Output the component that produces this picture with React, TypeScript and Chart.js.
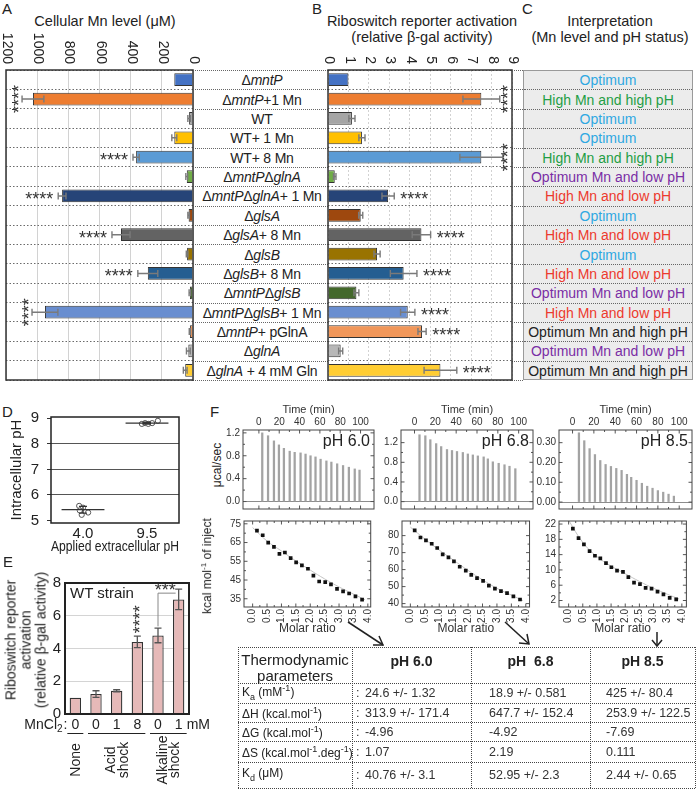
import React, { useEffect, useRef } from 'react';
import { Chart, registerables } from 'chart.js';

Chart.register(...registerables);

const FF = '"Liberation Sans", Arial, Helvetica, sans-serif';
Chart.defaults.font.family = FF;
Chart.defaults.color = '#222';

// ---------------- Panels A / B / C ----------------
const strainLabels = [
  'Δ_mntP_', 'Δ_mntP_+1 Mn', 'WT', 'WT+ 1 Mn', 'WT+ 8 Mn', 'Δ_mntP_Δ_glnA_',
  'Δ_mntP_Δ_glnA_+ 1 Mn', 'Δ_glsA_', 'Δ_glsA_+ 8 Mn', 'Δ_glsB_', 'Δ_glsB_+ 8 Mn',
  'Δ_mntP_Δ_glsB_', 'Δ_mntP_Δ_glsB_+ 1 Mn', 'Δ_mntP_+ pGlnA', 'Δ_glnA_', 'Δ_glnA_ + 4 mM Gln',
];
const barColors = [
  '#4472C4', '#ED7D31', '#A5A5A5', '#FFC000', '#5B9BD5', '#70AD47', '#264478', '#9E480E',
  '#636363', '#997300', '#255E91', '#43682B', '#698ED0', '#F1975A', '#B7B7B7', '#FFCD33',
];
const mnLevel = [120, 1027, 25, 120, 365, 40, 840, 28, 462, 38, 290, 20, 950, 20, 30, 50];
const mnErr = [0, 70, 8, 16, 20, 6, 25, 5, 58, 5, 64, 5, 83, 4, 12, 12];
const mnStars = ['', 'v', '', '', 'h', '', 'h', '', 'h', '', 'h', '', 'v', '', '', ''];
const mnTickStep = 200;

const riboActivity = [1.0, 7.5, 1.17, 1.66, 7.5, 0.33, 2.94, 1.6, 4.57, 2.4, 3.7, 1.39, 3.9, 4.6, 0.62, 5.5];
const riboErr = [0, 0.9, 0.15, 0.15, 1.05, 0.06, 0.3, 0.1, 0.45, 0.15, 0.65, 0.12, 0.35, 0.2, 0.1, 0.8];
const riboStars = ['', 'v', '', '', 'v', '', 'h', '', 'h', '', 'h', '', 'h', 'h', '', 'h'];

const interpretation = [
  'Optimum', 'High Mn and high pH', 'Optimum', 'Optimum', 'High Mn and high pH',
  'Optimum Mn and low pH', 'High Mn and low pH', 'Optimum', 'High Mn and low pH', 'Optimum',
  'High Mn and low pH', 'Optimum Mn and low pH', 'High Mn and low pH', 'Optimum Mn and high pH',
  'Optimum Mn and low pH', 'Optimum Mn and high pH',
];
const interpColors: Record<string, string> = {
  'Optimum': '#2FA8E2',
  'High Mn and high pH': '#1F9E45',
  'Optimum Mn and low pH': '#7A2EA5',
  'High Mn and low pH': '#EC3A2E',
  'Optimum Mn and high pH': '#222222',
};

// ---------------- Panel D ----------------
const phGroups = ['4.0', '9.5'];
const phLowX = [0.94, 1.0, 0.98, 1.08, 0.95];
const phLowY = [5.57, 5.5, 5.22, 5.31, 5.39];
const phHighX = [1.92, 1.97, 2.02, 2.08, 2.17];
const phHighY = [8.78, 8.81, 8.78, 8.81, 8.9];
const phMean = [5.42, 8.81];
const phSd = [0.13, 0.04];
const phTicks = [5, 5.5, 6, 6.5, 7, 7.5, 8, 8.5, 9];

// ---------------- Panel E ----------------
const shockMn = ['0', '0', '1', '8', '0', '1'];
const shockAct = [1.0, 1.22, 1.42, 4.4, 4.8, 7.0];
const shockErr = [0, 0.2, 0.06, 0.35, 0.45, 0.62];
const shockGroups = [
  { lines: ['None'], from: 0, to: 0 },
  { lines: ['Acid', 'shock'], from: 1, to: 3 },
  { lines: ['Alkaline', 'shock'], from: 4, to: 5 },
];
const shockTicks = [0, 1, 2, 3, 4, 5, 6, 7, 8];

// ---------------- Panel F ----------------
const itcTime60 = [3.3, 9, 14.8, 19.7, 24.6, 30.3, 35.2, 41, 45.9, 50.8, 55.7, 60.7, 66.4, 71.3, 77, 82.8, 88.5, 94.3, 99];
const itcPeak60 = [1.2, 1.15, 1.06, 0.99, 0.93, 0.88, 0.86, 0.85, 0.83, 0.8, 0.78, 0.74, 0.71, 0.69, 0.66, 0.63, 0.6, 0.57, 0.55];
const itcTime68 = [4.8, 10.4, 15.2, 20.8, 25.6, 31.2, 36, 40.8, 46.4, 51.2, 56, 60.8, 66.4, 70.4, 75.2, 80.8, 86.4, 91.2, 96.8];
const itcPeak68 = [1.36, 1.34, 1.26, 1.18, 1.12, 1.06, 1.04, 1.02, 1.0, 0.97, 0.95, 0.93, 0.91, 0.87, 0.81, 0.78, 0.75, 0.72, 0.67];
const itcTime85 = [6, 11, 16, 21, 26, 31, 36, 41, 46, 51, 55, 60, 65, 70, 75, 80, 85, 90, 95];
const itcPeak85 = [0.35, 0.31, 0.27, 0.24, 0.21, 0.19, 0.18, 0.17, 0.16, 0.14, 0.125, 0.11, 0.095, 0.08, 0.07, 0.058, 0.05, 0.04, 0.03];
const rateTicks60 = [0, 0.2, 0.4, 0.6, 0.8, 1.0, 1.2];
const rateTicks68 = [0, 0.2, 0.4, 0.6, 0.8, 1.0, 1.2, 1.4];
const rateTicks85 = [0, 0.05, 0.1, 0.15, 0.2, 0.25, 0.3, 0.35];
const timeTicks = [0, 20, 40, 60, 80, 100];

const molarRatio = [0.15, 0.35, 0.54, 0.74, 0.93, 1.12, 1.32, 1.51, 1.71, 1.92, 2.11, 2.31, 2.52, 2.72, 2.93, 3.14, 3.35, 3.57, 3.8];
const heat60 = [71.4, 68.9, 65.0, 62.7, 59.0, 59.7, 56.7, 54.4, 52.8, 51.0, 47.3, 44.2, 43.9, 42.7, 40.3, 38.9, 37.8, 36.3, 34.5];
const heat68 = [83.1, 78.9, 77.2, 75.2, 72.7, 69.0, 67.2, 64.8, 61.7, 59.4, 56.9, 55.0, 53.4, 50.6, 48.8, 47.3, 46.2, 44.2, 42.4];
const heat85 = [20.8, 18.3, 16.7, 14.9, 13.7, 13.0, 11.8, 10.7, 9.8, 9.5, 8.1, 6.7, 6.3, 5.3, 5.1, 4.3, 3.6, 2.7, 2.3];
const fitRatio = [0.0, 0.5, 1.0, 1.5, 2.0, 2.5, 3.0, 3.5, 3.9];
const fit60 = [73.0, 65.8, 60.5, 55.2, 50.3, 45.6, 41.3, 37.5, 34.5];
const fit68 = [85.0, 78.0, 71.5, 65.5, 59.5, 54.0, 49.0, 45.0, 41.8];
const fit85 = [23.0, 17.2, 13.5, 11.0, 9.0, 7.0, 5.2, 3.6, 2.4];
const ratioTicks = [0, 0.5, 1, 1.5, 2, 2.5, 3, 3.5, 4];
const heatTicks60 = [35, 45, 55, 65, 75];
const heatTicks68 = [40, 50, 60, 70, 80];
const heatTicks85 = [2, 6, 10, 14, 18, 22];

const thermoKa = ['24.6 +/- 1.32', '18.9 +/- 0.581', '425 +/- 80.4'];
const thermoDH = ['313.9 +/- 171.4', '647.7 +/- 152.4', '253.9 +/- 122.5'];
const thermoDG = ['-4.96', '-4.92', '-7.69'];
const thermoDS = ['1.07', '2.19', '0.111'];
const thermoKd = ['40.76 +/- 3.1', '52.95 +/- 2.3', '2.44 +/- 0.65'];
const thermoHeads = ['pH 6.0', 'pH  6.8', 'pH 8.5'];

// ---------------- geometry ----------------
const ROW_TOP = 70;
const ROW_BOTTOM = 380;
const RH = (ROW_BOTTOM - ROW_TOP) / 16;
const ROT_CW = true;

// ---------------- plugins ----------------
const frame = (color: string, width: number) => ({
  id: 'frame',
  afterDraw(chart: any) {
    const { ctx, chartArea: a } = chart;
    ctx.save();
    ctx.strokeStyle = color;
    ctx.lineWidth = width;
    ctx.strokeRect(a.left, a.top, a.right - a.left, a.bottom - a.top);
    ctx.restore();
  },
});

const topRotTicks = (size: number) => ({
  id: 'topRotTicks',
  afterDraw(chart: any) {
    const { ctx, chartArea: a, scales } = chart;
    const x = scales.x;
    ctx.save();
    ctx.font = `${size}px ${FF}`;
    ctx.fillStyle = '#222';
    ctx.textBaseline = 'middle';
    x.ticks.forEach((t: any) => {
      const p = x.getPixelForValue(t.value);
      ctx.save();
      ctx.translate(p + 1, a.top - 6);
      if (ROT_CW) {
        ctx.rotate(Math.PI / 2);
        ctx.textAlign = 'right';
      } else {
        ctx.rotate(-Math.PI / 2);
        ctx.textAlign = 'left';
      }
      ctx.fillText(String(t.value), 0, 0);
      ctx.restore();
    });
    ctx.restore();
  },
});

const hErrors = (values: number[], errs: number[]) => ({
  id: 'hErrors',
  afterDatasetsDraw(chart: any) {
    const meta = chart.getDatasetMeta(0);
    const xs = chart.scales.x;
    const ctx = chart.ctx;
    ctx.save();
    ctx.strokeStyle = '#7a7a7a';
    ctx.lineWidth = 1.4;
    meta.data.forEach((el: any, i: number) => {
      const e = errs[i];
      if (!e) return;
      const x1 = xs.getPixelForValue(values[i] - e);
      const x2 = xs.getPixelForValue(values[i] + e);
      const y = el.y;
      ctx.beginPath();
      ctx.moveTo(x1, y); ctx.lineTo(x2, y);
      ctx.moveTo(x1, y - 3.5); ctx.lineTo(x1, y + 3.5);
      ctx.moveTo(x2, y - 3.5); ctx.lineTo(x2, y + 3.5);
      ctx.stroke();
    });
    ctx.restore();
  },
});

const hStars = (values: number[], errs: number[], stars: string[], side: 'left' | 'right') => ({
  id: 'hStars',
  afterDatasetsDraw(chart: any) {
    const meta = chart.getDatasetMeta(0);
    const xs = chart.scales.x;
    const { ctx, chartArea: a } = chart;
    ctx.save();
    ctx.font = `18px ${FF}`;
    ctx.fillStyle = '#333';
    ctx.textBaseline = 'middle';
    meta.data.forEach((el: any, i: number) => {
      const s = stars[i];
      if (!s) return;
      const tip = xs.getPixelForValue(values[i] + errs[i]);
      if (s === 'h') {
        ctx.textAlign = side === 'left' ? 'right' : 'left';
        ctx.fillText('****', tip + (side === 'left' ? -5 : 6), el.y + 4);
      } else {
        const x = side === 'left' ? tip - 6 : a.right - 7;
        ctx.save();
        ctx.translate(x, el.y);
        ctx.rotate(-Math.PI / 2);
        ctx.textAlign = 'center';
        ctx.fillText('****', 0, 4);
        ctx.restore();
      }
    });
    ctx.restore();
  },
});

const meanSd = {
  id: 'meanSd',
  afterDatasetsDraw(chart: any) {
    const { ctx, scales } = chart;
    const xs = scales.x, ys = scales.y;
    ctx.save();
    ctx.strokeStyle = '#333';
    ctx.lineWidth = 1.3;
    phMean.forEach((m, g) => {
      const cx = xs.getPixelForValue(g + 1);
      const x1 = xs.getPixelForValue(g + 1 - 0.335);
      const x2 = xs.getPixelForValue(g + 1 + 0.335);
      const ym = ys.getPixelForValue(m);
      const y1 = ys.getPixelForValue(m - phSd[g]);
      const y2 = ys.getPixelForValue(m + phSd[g]);
      ctx.beginPath();
      ctx.moveTo(x1, ym); ctx.lineTo(x2, ym);
      ctx.moveTo(cx, y1); ctx.lineTo(cx, y2);
      ctx.moveTo(cx - 4, y1); ctx.lineTo(cx + 4, y1);
      ctx.moveTo(cx - 4, y2); ctx.lineTo(cx + 4, y2);
      ctx.stroke();
    });
    ctx.restore();
  },
};

const shockAnnot = {
  id: 'shockAnnot',
  afterDraw(chart: any) {
    const { ctx, chartArea: a, scales } = chart;
    const xs = scales.x, ys = scales.y;
    ctx.save();
    // error bars
    ctx.strokeStyle = '#555';
    ctx.lineWidth = 1.3;
    shockAct.forEach((v, i) => {
      const e = shockErr[i];
      if (!e) return;
      const cx = xs.getPixelForValue(i);
      const y1 = ys.getPixelForValue(v - e), y2 = ys.getPixelForValue(v + e);
      ctx.beginPath();
      ctx.moveTo(cx, y1); ctx.lineTo(cx, y2);
      ctx.moveTo(cx - 3.5, y1); ctx.lineTo(cx + 3.5, y1);
      ctx.moveTo(cx - 3.5, y2); ctx.lineTo(cx + 3.5, y2);
      ctx.stroke();
    });
    // **** over 8 mM acid
    ctx.fillStyle = '#333';
    ctx.font = `18px ${FF}`;
    ctx.textBaseline = 'middle';
    {
      const cx = xs.getPixelForValue(3);
      const top = ys.getPixelForValue(shockAct[3] + shockErr[3]);
      ctx.save();
      ctx.translate(cx, top - 3);
      ctx.rotate(-Math.PI / 2);
      ctx.textAlign = 'left';
      ctx.fillText('****', 0, 4);
      ctx.restore();
    }
    // *** bracket between alkaline bars
    {
      const xl = xs.getPixelForValue(4), xr = xs.getPixelForValue(5);
      const yb = ys.getPixelForValue(7.38);
      const yl = ys.getPixelForValue(5.35);
      ctx.strokeStyle = '#888';
      ctx.lineWidth = 1;
      ctx.beginPath();
      ctx.moveTo(xl, yl); ctx.lineTo(xl, yb); ctx.lineTo(xr - 3, yb);
      ctx.stroke();
      ctx.textAlign = 'center';
      ctx.fillText('***', (xl + xr) / 2 - 3, yb - 2);
    }
    // MnCl2 row, underlines, group names
    const yRow = a.bottom + 11.4;
    ctx.font = `14px ${FF}`;
    ctx.fillStyle = '#222';
    ctx.textAlign = 'right';
    const x0 = xs.getPixelForValue(0) - 8;
    ctx.fillText(':', x0, yRow);
    const colonW = ctx.measureText(' :').width;
    ctx.font = `10px ${FF}`;
    ctx.fillText('2', x0 - colonW + 3, yRow + 4);
    const twoW = ctx.measureText('2').width;
    ctx.font = `14px ${FF}`;
    ctx.fillText('MnCl', x0 - colonW + 3 - twoW, yRow);
    ctx.textAlign = 'left';
    ctx.fillText('mM', xs.getPixelForValue(5) + 8, yRow);
    ctx.strokeStyle = '#222';
    ctx.lineWidth = 1;
    shockGroups.forEach((g) => {
      const xa = xs.getPixelForValue(g.from) - 8;
      const xb = xs.getPixelForValue(g.to) + 8;
      ctx.beginPath();
      ctx.moveTo(xa, a.bottom + 19.5); ctx.lineTo(xb, a.bottom + 19.5);
      ctx.stroke();
      const cx = (xs.getPixelForValue(g.from) + xs.getPixelForValue(g.to)) / 2;
      const n = g.lines.length;
      g.lines.forEach((ln, k) => {
        ctx.save();
        ctx.translate(cx + (k - (n - 1) / 2) * 12.5, a.bottom + 46);
        ctx.rotate(-Math.PI / 2);
        ctx.textAlign = 'center';
        ctx.textBaseline = 'middle';
        ctx.fillText(ln, 0, 1);
        ctx.restore();
      });
    });
    ctx.restore();
  },
};

const inTicks = {
  id: 'inTicks',
  afterDraw(chart: any) {
    const { ctx, chartArea: a, scales } = chart;
    const x = scales.x, y = scales.y;
    ctx.save();
    ctx.strokeStyle = '#555';
    ctx.lineWidth = 1;
    ctx.beginPath();
    const xt = x.ticks.map((t: any) => t.value);
    const yt = y.ticks.map((t: any) => t.value);
    const xs: number[] = [];
    xt.forEach((v: number, i: number) => {
      xs.push(x.getPixelForValue(v));
      if (i < xt.length - 1) xs.push((x.getPixelForValue(v) + x.getPixelForValue(xt[i + 1])) / 2);
    });
    xs.forEach((p, i) => {
      if (p < a.left || p > a.right) return;
      const l = i % 2 ? 2 : 3.5;
      ctx.moveTo(p, a.top); ctx.lineTo(p, a.top + l);
      ctx.moveTo(p, a.bottom); ctx.lineTo(p, a.bottom - l);
    });
    const ys: number[] = [];
    yt.forEach((v: number, i: number) => {
      ys.push(y.getPixelForValue(v));
      if (i < yt.length - 1) ys.push((y.getPixelForValue(v) + y.getPixelForValue(yt[i + 1])) / 2);
    });
    ys.forEach((p, i) => {
      if (p < a.top || p > a.bottom) return;
      const l = i % 2 ? 2 : 3.5;
      ctx.moveTo(a.left, p); ctx.lineTo(a.left + l, p);
      ctx.moveTo(a.right, p); ctx.lineTo(a.right - l, p);
    });
    ctx.stroke();
    ctx.restore();
  },
};

const cornerLabel = (text: string) => ({
  id: 'corner',
  afterDraw(chart: any) {
    const { ctx, chartArea: a } = chart;
    ctx.save();
    ctx.font = `16px ${FF}`;
    ctx.fillStyle = '#222';
    ctx.textAlign = 'right';
    ctx.textBaseline = 'middle';
    ctx.fillText(text, a.right - 4, a.top + 12);
    ctx.restore();
  },
});

const base = {
  animation: false,
  responsive: false,
  events: [],
  plugins: { legend: { display: false }, tooltip: { enabled: false } },
};

function hbarConfig(values: number[], errs: number[], stars: string[], colors: string[], x: any, pad: any, yW: number, side: 'left' | 'right', xGridDash: number[]) {
  return {
    type: 'bar',
    data: {
      labels: strainLabels,
      datasets: [{
        data: values, backgroundColor: colors, borderColor: '#333', borderWidth: 1,
        barPercentage: 0.66, categoryPercentage: 1,
      }],
    },
    options: {
      ...base,
      indexAxis: 'y',
      layout: { padding: pad },
      scales: {
        x: {
          type: 'linear', position: 'top', ...x,
          afterFit: (s: any) => { s.height = ROW_TOP; },
          ticks: { display: false, stepSize: x.step },
          grid: { color: '#d2d2d2', drawTicks: false },
          border: { display: false, dash: xGridDash },
        },
        y: {
          afterFit: (s: any) => { s.width = yW; },
          ticks: { display: false },
          grid: { color: '#6a6a6a', drawTicks: false },
          border: { display: false, dash: [1.5, 2] },
        },
      },
    },
    plugins: [hErrors(values, errs), hStars(values, errs, stars, side), frame('#333', 1.5), topRotTicks(14)],
  };
}

function itcTopConfig(times: number[], peaks: number[], xr: number[], yr: number[], yTicks: number[], digits: number, yW: number, padR: number, label: string) {
  return {
    type: 'bar',
    data: {
      datasets: [{
        data: times.map((t, i) => ({ x: t, y: peaks[i] })),
        backgroundColor: '#a3a3a3', barThickness: 1.6, borderWidth: 0,
      }],
    },
    options: {
      ...base,
      layout: { padding: { top: 0, bottom: 3, right: padR, left: 0 } },
      scales: {
        x: {
          type: 'linear', position: 'top', min: xr[0], max: xr[1],
          afterBuildTicks: (s: any) => { s.ticks = timeTicks.map((v) => ({ value: v })); },
          afterFit: (s: any) => { s.height = 30; },
          ticks: { font: { size: 10 }, padding: 2, color: '#333', maxRotation: 0 },
          grid: { display: false, drawTicks: false },
          border: { display: false },
          title: { display: true, text: 'Time (min)', font: { size: 11 }, padding: { top: 3, bottom: 0 }, color: '#333' },
        },
        y: {
          min: yr[0], max: yr[1],
          afterBuildTicks: (s: any) => { s.ticks = yTicks.map((v) => ({ value: v })); },
          afterFit: (s: any) => { s.width = yW; },
          ticks: { font: { size: 10 }, padding: 3, color: '#333', callback: (v: number) => v.toFixed(digits) },
          grid: { drawTicks: false, color: (c: any) => (c.tick && c.tick.value === 0 ? '#8c8c8c' : 'rgba(0,0,0,0)') },
          border: { display: false },
        },
      },
    },
    plugins: [inTicks, frame('#444', 1), cornerLabel(label)],
  };
}

function itcBottomConfig(heat: number[], fit: number[], xr: number[], yr: number[], yTicks: number[], yW: number, padR: number) {
  return {
    type: 'scatter',
    data: {
      datasets: [
        {
          data: molarRatio.map((x, i) => ({ x, y: heat[i] })), pointStyle: 'rect', pointRadius: 2.6,
          backgroundColor: '#111', borderColor: '#111', borderWidth: 0,
        },
        {
          data: fitRatio.map((x, i) => ({ x, y: fit[i] })), showLine: true, borderColor: '#c4c4c4',
          borderWidth: 1, pointRadius: 0, tension: 0.4,
        },
      ],
    },
    options: {
      ...base,
      layout: { padding: { top: 3, bottom: 0, right: padR, left: 0 } },
      scales: {
        x: {
          type: 'linear', min: xr[0], max: xr[1],
          afterBuildTicks: (s: any) => { s.ticks = ratioTicks.map((v) => ({ value: v })); },
          afterFit: (s: any) => { s.height = 31; },
          ticks: { font: { size: 10 }, padding: 2, color: '#333', minRotation: 90, maxRotation: 90, callback: (v: number) => v.toFixed(1) },
          grid: { display: false, drawTicks: false },
          border: { display: false },
          title: { display: true, text: 'Molar ratio', font: { size: 12 }, padding: { top: 0, bottom: 2 }, color: '#333' },
        },
        y: {
          min: yr[0], max: yr[1],
          afterBuildTicks: (s: any) => { s.ticks = yTicks.map((v) => ({ value: v })); },
          afterFit: (s: any) => { s.width = yW; },
          ticks: { font: { size: 10 }, padding: 3, color: '#333' },
          grid: { display: false, drawTicks: false },
          border: { display: false },
        },
      },
    },
    plugins: [inTicks, frame('#444', 1)],
  };
}

// ---------------- small html helpers ----------------
function Rich({ s }: { s: string }) {
  const parts = s.split('_');
  return <>{parts.map((p, i) => (i % 2 ? <i key={i}>{p}</i> : <span key={i}>{p}</span>))}</>;
}

function Txt({ x, y, size = 14, align = 'center', children, style = {} }: any) {
  const tx = align === 'center' ? '-50%' : align === 'right' ? '-100%' : '0';
  return (
    <div style={{
      position: 'absolute', left: x, top: y, transform: `translate(${tx}, -50%)`, fontSize: size,
      lineHeight: 1.15, whiteSpace: 'pre', ...style,
    }}>{children}</div>
  );
}

function VText({ cx, cy, size = 14, lh, children, style = {} }: any) {
  return (
    <div style={{
      position: 'absolute', left: cx, top: cy, transform: 'translate(-50%, -50%) rotate(-90deg)',
      fontSize: size, lineHeight: lh ? `${lh}px` : 1.15, whiteSpace: 'nowrap', textAlign: 'center', ...style,
    }}>{children}</div>
  );
}

function Cnv({ r, x, y, w, h }: any) {
  return <canvas ref={r} width={w} height={h} style={{ position: 'absolute', left: x, top: y, width: w, height: h }} />;
}

export default function App() {
  const rA = useRef<HTMLCanvasElement>(null);
  const rB = useRef<HTMLCanvasElement>(null);
  const rD = useRef<HTMLCanvasElement>(null);
  const rE = useRef<HTMLCanvasElement>(null);
  const rT1 = useRef<HTMLCanvasElement>(null);
  const rT2 = useRef<HTMLCanvasElement>(null);
  const rT3 = useRef<HTMLCanvasElement>(null);
  const rL1 = useRef<HTMLCanvasElement>(null);
  const rL2 = useRef<HTMLCanvasElement>(null);
  const rL3 = useRef<HTMLCanvasElement>(null);

  useEffect(() => {
    const charts: Chart[] = [];
    const mk = (r: any, cfg: any) => { if (r.current) charts.push(new Chart(r.current, cfg)); };

    // A: canvas (0,0) 200x384 -> chart area x 6..193, y 70..380
    mk(rA, hbarConfig(mnLevel, mnErr, mnStars, barColors,
      { min: 0, max: 1200, reverse: true, step: mnTickStep }, { left: 0, right: 7, top: 0, bottom: 4 }, 6, 'left', []));
    // B: canvas (320,0) 200x384 -> chart area x 328..512
    mk(rB, hbarConfig(riboActivity, riboErr, riboStars, barColors,
      { min: 0, max: 9, reverse: false, step: 1 }, { left: 0, right: 8, top: 0, bottom: 4 }, 8, 'right', [2, 2]));

    // D: canvas (0,400) 200x160 -> chart area x 51..179, y 412..523
    mk(rD, {
      type: 'scatter',
      data: {
        datasets: [
          { data: phLowX.map((x, i) => ({ x, y: phLowY[i] })), pointRadius: 2.6, borderColor: '#555', backgroundColor: '#fff', borderWidth: 1 },
          { data: phHighX.map((x, i) => ({ x, y: phHighY[i] })), pointRadius: 2.6, borderColor: '#555', backgroundColor: '#fff', borderWidth: 1 },
        ],
      },
      options: {
        ...base,
        layout: { padding: { top: 12, right: 21, left: 0, bottom: 0 } },
        scales: {
          x: {
            type: 'linear', min: 0.5, max: 2.5,
            afterBuildTicks: (s: any) => { s.ticks = phGroups.map((_, i) => ({ value: i + 1 })); },
            afterFit: (s: any) => { s.height = 37; },
            ticks: { callback: (v: number) => phGroups[v - 1], font: { size: 15 }, padding: 2, color: '#222', maxRotation: 0 },
            grid: { display: false, drawTicks: false },
            border: { display: false },
            title: { display: true, text: 'Applied extracellular pH', font: { size: 14 }, padding: { top: 0, bottom: 4 }, color: '#222' },
          },
          y: {
            min: 4.9, max: 9.05,
            afterBuildTicks: (s: any) => { s.ticks = phTicks.map((v) => ({ value: v })); },
            afterFit: (s: any) => { s.width = 51; },
            ticks: { callback: (v: number) => (Number.isInteger(v) ? String(v) : ''), font: { size: 15 }, padding: 8, color: '#222' },
            grid: {
              color: (c: any) => {
                const v = c.tick ? c.tick.value : 0;
                if (v === 5 || v === 9) return 'rgba(0,0,0,0)';
                return Number.isInteger(v) ? '#555' : '#c4c4c4';
              },
              tickColor: '#333', tickLength: 4, drawTicks: true,
            },
            border: { display: false, dash: (c: any) => (c.tick && !Number.isInteger(c.tick.value) ? [2, 2] : []) },
            title: { display: true, text: 'Intracellular pH', font: { size: 15 }, padding: { top: 8, bottom: 0 }, color: '#222' },
          },
        },
      },
      plugins: [meanSd, frame('#222', 1.5)],
    });

    // E: canvas (0,560) 215x229 -> chart area x 65..189, y 583..714
    mk(rE, {
      type: 'bar',
      data: {
        labels: shockMn,
        datasets: [{ data: shockAct, backgroundColor: '#E6B9B8', borderColor: '#333', borderWidth: 1.3, barPercentage: 0.55, categoryPercentage: 1 }],
      },
      options: {
        ...base,
        layout: { padding: { top: 23, right: 26, left: 0, bottom: 0 } },
        scales: {
          x: {
            afterFit: (s: any) => { s.height = 75; },
            ticks: { font: { size: 14 }, padding: 3, color: '#222', maxRotation: 0 },
            grid: { display: false, drawTicks: false },
            border: { display: false },
          },
          y: {
            min: 0, max: 8,
            afterBuildTicks: (s: any) => { s.ticks = shockTicks.map((v) => ({ value: v })); },
            afterFit: (s: any) => { s.width = 65; },
            ticks: { callback: (v: number) => (v % 2 === 0 ? String(v) : ''), font: { size: 15 }, padding: 4, color: '#222' },
            grid: { color: '#d4d4d4', drawTicks: false },
            border: { display: false },
          },
        },
      },
      plugins: [shockAnnot, frame('#222', 2)],
    });

    // F upper
    mk(rT1, itcTopConfig(itcTime60, itcPeak60, [-4.9, 102.5], [-0.13, 1.25], rateTicks60, 1, 21, 8, 'pH 6.0'));
    mk(rT2, itcTopConfig(itcTime68, itcPeak68, [-2.4, 103.2], [-0.15, 1.457], rateTicks68, 1, 21, 7, 'pH 6.8'));
    mk(rT3, itcTopConfig(itcTime85, itcPeak85, [-2.3, 101.6], [-0.035, 0.364], rateTicks85, 2, 24, 4, 'pH 8.5'));
    // F lower
    mk(rL1, itcBottomConfig(heat60, fit60, [-0.3, 4.1], [30.6, 76.5], heatTicks60, 22, 7));
    mk(rL2, itcBottomConfig(heat68, fit68, [-0.29, 4.13], [38.0, 88.6], heatTicks68, 22, 7));
    mk(rL3, itcBottomConfig(heat85, fit85, [-0.34, 4.16], [0.3, 22.8], heatTicks85, 24, 4));

    return () => charts.forEach((c) => c.destroy());
  }, []);

  const dotted = '1px dotted #666';
  const tBorder = '1.5px dotted #444';
  const tCols = [238, 352, 471, 590, 695];
  const tRows = [647, 683, 703, 722, 741, 762, 788];

  return (
    <div style={{
      position: 'absolute', left: 0, top: 0, width: 696, height: 789, overflow: 'hidden',
      background: '#fff', fontFamily: FF, color: '#222',
    }}>
      {/* ---------- headers ---------- */}
      <Txt x={2} y={9} size={15} align="left">A</Txt>
      <Txt x={105} y={21} size={14.5}>Cellular Mn level (μM)</Txt>
      <Txt x={312} y={9} size={15} align="left">B</Txt>
      <Txt x={422} y={21} size={14.5}>Riboswitch reporter activation</Txt>
      <Txt x={422} y={37} size={14.5}>(relative β-gal activity)</Txt>
      <Txt x={522} y={9} size={15} align="left">C</Txt>
      <Txt x={610} y={21} size={14.5}>Interpretation</Txt>
      <Txt x={610} y={37} size={14.5}>(Mn level and pH status)</Txt>

      {/* ---------- row separators outside plots ---------- */}
      {Array.from({ length: 17 }).map((_, i) => (
        <React.Fragment key={`sep${i}`}>
          <div style={{ position: 'absolute', left: 193, width: 135, top: ROW_TOP + i * RH, height: 0, borderTop: dotted }} />
          <div style={{ position: 'absolute', left: 512, width: 11, top: ROW_TOP + i * RH, height: 0, borderTop: dotted }} />
        </React.Fragment>
      ))}

      {/* ---------- strain labels ---------- */}
      {strainLabels.map((s, i) => (
        <Txt key={`lab${i}`} x={262} y={ROW_TOP + (i + 0.5) * RH + 0.5} size={14} style={{ letterSpacing: '-0.2px' }}>
          <Rich s={s} />
        </Txt>
      ))}

      <Cnv r={rA} x={0} y={0} w={200} h={384} />
      <Cnv r={rB} x={320} y={0} w={200} h={384} />

      {/* ---------- panel C ---------- */}
      <div style={{
        position: 'absolute', left: 523, top: ROW_TOP, width: 170, height: ROW_BOTTOM - ROW_TOP,
        background: '#ececec', border: '1px solid #9a9a9a', boxSizing: 'border-box',
      }} />
      {interpretation.map((t, i) => (
        <React.Fragment key={`int${i}`}>
          {i > 0 && <div style={{ position: 'absolute', left: 524, width: 168, top: ROW_TOP + i * RH, height: 0, borderTop: dotted }} />}
          <Txt x={608} y={ROW_TOP + (i + 0.5) * RH + 0.5} size={14} style={{ color: interpColors[t] }}>{t}</Txt>
        </React.Fragment>
      ))}

      {/* ---------- panel D ---------- */}
      <Txt x={2} y={412} size={15} align="left">D</Txt>
      <Cnv r={rD} x={0} y={400} w={200} h={160} />

      {/* ---------- panel E ---------- */}
      <Txt x={3} y={562} size={15} align="left">E</Txt>
      <Cnv r={rE} x={0} y={560} w={215} h={229} />
      <Txt x={70} y={593} size={15} align="left">WT strain</Txt>
      <VText cx={26} cy={640} size={14} lh={15}>
        Riboswitch reporter<br />activation<br />(relative β-gal activity)
      </VText>

      {/* ---------- panel F ---------- */}
      <Txt x={210} y={412} size={15} align="left">F</Txt>
      <VText cx={218} cy={465} size={12}>μcal/sec</VText>
      <VText cx={207} cy={566} size={12}>kcal mol<sup style={{ fontSize: 8 }}>-1</sup> of inject</VText>
      <Cnv r={rT1} x={222} y={400} w={160} h={118} />
      <Cnv r={rT2} x={380} y={400} w={160} h={118} />
      <Cnv r={rT3} x={535} y={400} w={161} h={118} />
      <Cnv r={rL1} x={222} y={512} w={160} h={126} />
      <Cnv r={rL2} x={380} y={512} w={160} h={126} />
      <Cnv r={rL3} x={535} y={512} w={161} h={126} />

      {/* arrows */}
      <svg width={696} height={789} style={{ position: 'absolute', left: 0, top: 0, pointerEvents: 'none' }}>
        <g stroke="#222" strokeWidth={1.5} fill="none">
          <line x1={348} y1={622} x2={383} y2={645} />
          <polyline points="373,645 383,645 379,636" />
          <line x1={505} y1={622} x2={529} y2={644} />
          <polyline points="519,643 529,644 527,634" />
          <line x1={657} y1={632} x2={657} y2={646} />
          <polyline points="652,640 657,646 662,640" />
        </g>
      </svg>

      {/* thermodynamic table */}
      {tRows.map((y, i) => (
        <div key={`tr${i}`} style={{ position: 'absolute', left: tCols[0], width: tCols[4] - tCols[0], top: y, height: 0, borderTop: tBorder }} />
      ))}
      {tCols.map((x, i) => (
        <div key={`tc${i}`} style={{ position: 'absolute', left: x, top: tRows[0], height: tRows[6] - tRows[0], width: 0, borderLeft: tBorder }} />
      ))}
      <Txt x={295} y={660} size={15}>Thermodynamic</Txt>
      <Txt x={295} y={676} size={15}>parameters</Txt>
      {thermoHeads.map((h, i) => (
        <Txt key={`th${i}`} x={(tCols[i + 1] + tCols[i + 2]) / 2} y={661} size={14} style={{ fontWeight: 'bold' }}>{h}</Txt>
      ))}
      {[
        <>K<sub style={{ fontSize: 9 }}>a</sub> (mM<sup style={{ fontSize: 9 }}>-1</sup>)</>,
        <>ΔH (kcal.mol<sup style={{ fontSize: 9 }}>-1</sup>)</>,
        <>ΔG (kcal.mol<sup style={{ fontSize: 9 }}>-1</sup>)</>,
        <>ΔS (kcal.mol<sup style={{ fontSize: 9 }}>-1</sup>.deg<sup style={{ fontSize: 9 }}>-1</sup>)</>,
        <>K<sub style={{ fontSize: 9 }}>d</sub> (μM)</>,
      ].map((lab, i) => {
        const cy = (tRows[i + 1] + tRows[i + 2]) / 2;
        const vals = [thermoKa, thermoDH, thermoDG, thermoDS, thermoKd][i];
        return (
          <React.Fragment key={`row${i}`}>
            <Txt x={242} y={cy} size={12} align="left" style={{ lineHeight: 1 }}>{lab}</Txt>
            <Txt x={356} y={cy} size={12.5} align="left" style={{ color: '#333' }}>:</Txt>
            <Txt x={365} y={cy} size={12.5} align="left" style={{ color: '#333' }}>{vals[0]}</Txt>
            <Txt x={489} y={cy} size={12.5} align="left" style={{ color: '#333' }}>{vals[1]}</Txt>
            <Txt x={606} y={cy} size={12.5} align="left" style={{ color: '#333' }}>{vals[2]}</Txt>
          </React.Fragment>
        );
      })}
    </div>
  );
}
